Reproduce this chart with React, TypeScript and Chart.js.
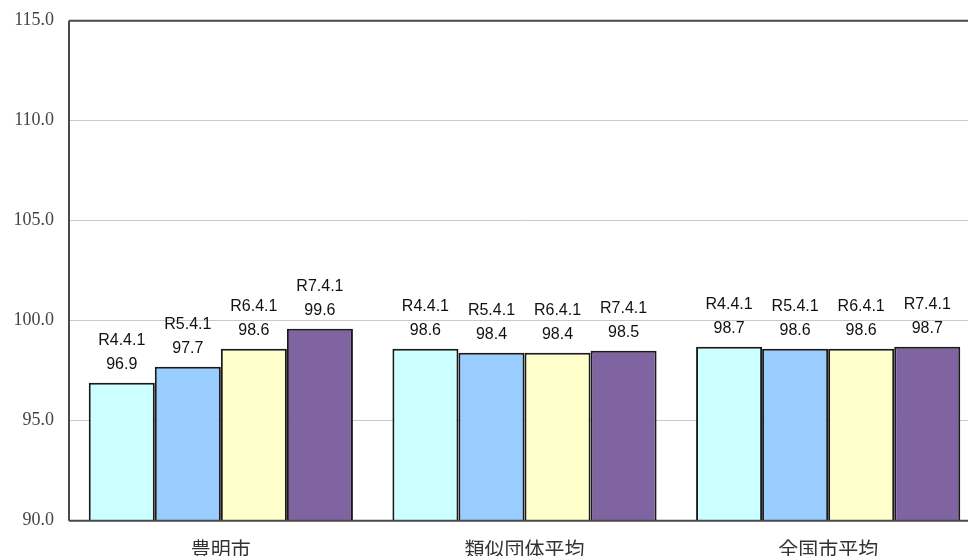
import React, { useEffect, useRef } from "react";
import { Chart, registerables } from "chart.js";

Chart.register(...registerables);

const categories = ["豊明市", "類似団体平均", "全国市平均"];
const seriesNames = ["R4.4.1", "R5.4.1", "R6.4.1", "R7.4.1"];
const r4Values = [96.9, 98.6, 98.7];
const r5Values = [97.7, 98.4, 98.6];
const r6Values = [98.6, 98.4, 98.6];
const r7Values = [99.6, 98.5, 98.7];
const seriesColors = ["#CCFFFF", "#99CCFF", "#FFFFCC", "#8064A2"];
const yMin = 90;
const yMax = 115;
const yStep = 5;

const W = 980;
const H = 556;
const LEFT = 69;
const TOP = 20.7;
const BOTTOM = 520.7;

const framePlugin = {
  id: "frame",
  afterDatasetsDraw(chart: any) {
    const { ctx, chartArea } = chart;
    ctx.save();
    ctx.strokeStyle = "#4a4a4a";
    ctx.lineWidth = 2;
    ctx.beginPath();
    ctx.moveTo(chartArea.left, chartArea.top);
    ctx.lineTo(chartArea.right, chartArea.top);
    ctx.moveTo(chartArea.left, chartArea.top);
    ctx.lineTo(chartArea.left, chartArea.bottom);
    ctx.moveTo(chartArea.left, chartArea.bottom);
    ctx.lineTo(chartArea.right, chartArea.bottom);
    ctx.stroke();

    ctx.fillStyle = "#111";
    ctx.font = "16px 'Liberation Sans', Arial, sans-serif";
    ctx.textAlign = "center";
    ctx.textBaseline = "middle";
    chart.data.datasets.forEach((ds: any, di: number) => {
      const meta = chart.getDatasetMeta(di);
      meta.data.forEach((el: any, i: number) => {
        const v = ds.data[i] as number;
        ctx.fillText(v.toFixed(1), el.x, el.y - 18);
        ctx.fillText(ds.label, el.x, el.y - 42);
      });
    });
    ctx.restore();
  },
};

export default function App() {
  const ref = useRef<HTMLCanvasElement>(null);
  useEffect(() => {
    document.body.style.margin = "0";
    document.body.style.overflow = "hidden";
    const values = [r4Values, r5Values, r6Values, r7Values];
    const chart = new Chart(ref.current!, {
      type: "bar",
      data: {
        labels: categories,
        datasets: seriesNames.map((n, i) => ({
          label: n,
          data: values[i],
          backgroundColor: seriesColors[i],
          borderColor: "#1a1a1a",
          borderWidth: 2,
          categoryPercentage: 0.87,
          barPercentage: 1,
        })),
      },
      options: {
        animation: false,
        responsive: false,
        devicePixelRatio: 1,
        layout: { padding: { top: TOP, right: 0, left: 0, bottom: 0 } },
        plugins: { legend: { display: false }, tooltip: { enabled: false } },
        scales: {
          x: {
            grid: { display: false },
            border: { display: false },
            ticks: {
              color: "#333",
              padding: 9,
              font: { family: "'Noto Sans CJK JP', sans-serif", size: 20 },
            },
            afterFit: (s: any) => {
              s.height = H - BOTTOM;
              s.paddingLeft = 0;
              s.paddingRight = 0;
            },
          },
          y: {
            min: yMin,
            max: yMax,
            grid: { color: "#c8c8c8", lineWidth: 1, drawTicks: false },
            border: { display: false },
            ticks: {
              stepSize: yStep,
              padding: 15,
              color: "#444",
              font: { family: "'Liberation Serif', 'DejaVu Serif', serif", size: 18 },
              callback: (v: any) => Number(v).toFixed(1),
            },
            afterFit: (s: any) => {
              s.width = LEFT;
              s.paddingTop = 0;
              s.paddingBottom = 0;
            },
          },
        },
      },
      plugins: [framePlugin],
    });
    return () => chart.destroy();
  }, []);
  return (
    <div style={{ width: W, height: H }}>
      <canvas ref={ref} width={W} height={H} style={{ display: "block" }} />
    </div>
  );
}
